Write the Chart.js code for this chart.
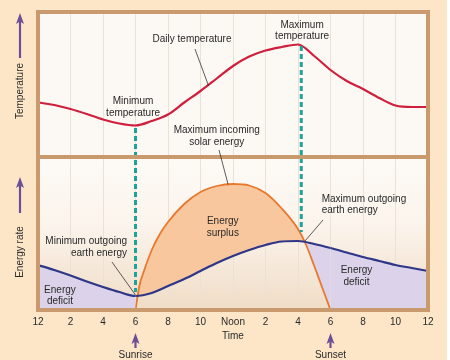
<!DOCTYPE html>
<html><head><meta charset="utf-8">
<script src="https://cdn.jsdelivr.net/npm/chart.js@4"></script>
<style>
html,body{margin:0;padding:0;background:#fff;}
#wrap{width:450px;height:360px;background:linear-gradient(to right,#fde6c8 447px,#ffffff 447px);}
canvas{display:block;}
</style></head><body>
<div id="wrap"><canvas id="c" width="450" height="360"></canvas></div>
<script>
// ---- data (arbitrary relative units) ----
const hours = [0,1,2,3,4,5,6,7,8,9,10,11,12,13,14,15,16,17,18,19,20,21,22,23,24];
const temperature = [54.5,52,48,43,37.5,33.5,31.5,36,42.5,54.5,66,78.5,91,100.5,106.5,110,112.5,101,87,76,68,59,51.5,50,50];
const earthEnergy = [45,40,34.5,28.5,23,18,14,17,24,31,39,47,54,60,65,68.5,69,66,62,57.5,53,49,45,42,39];
const solarHours = [6,6.25,6.5,7,7.5,8,9,10,11,12,13,14,15,16,16.5,17,17.5,18];
const solarEnergy = [0,25,38,60,76,88,106,118,124,126,124.5,117,101.5,81,65,44,22,0];
const tickLabels = ['12','2','4','6','8','10','Noon','2','4','6','8','10','12'];
const markerHours = [6, 16.2];
const markerTopTemp = [29, 111];
const markerBottomEnergy = [18, 78];

const F = "'Liberation Sans', Arial, sans-serif";
const C = {
  red:'#cf1f3c', blue:'#2d3687', orange:'#e9782f', orangeFill:'#f9c79d', lav:'#dcd2ea',
  teal:'#1ea39b', frame:'#c89a6e', text:'#2a2a2a', purple:'#6c4f97', grid:'#ece1d5'
};

const notes = [
  {t:['Daily temperature'], h:9.48, v:118, a:'yT', al:'center'},
  {t:['Maximum','temperature'], h:16.25, v:132, a:'yT', al:'center'},
  {t:['Minimum','temperature'], h:5.85, v:55.3, a:'yT', al:'center'},
  {t:['Maximum incoming','solar energy'], h:11.0, v:26.3, a:'yT', al:'center'},
  {t:['Energy','surplus'], h:11.37, v:88.3, a:'yE', al:'center'},
  {t:['Minimum outgoing','earth energy'], h:5.48, v:68.3, a:'yE', al:'right'},
  {t:['Maximum outgoing','earth energy'], h:17.46, v:111, a:'yE', al:'left'},
  {t:['Energy','deficit'], h:1.35, v:20, a:'yE', al:'center'},
  {t:['Energy','deficit'], h:19.6, v:39.3, a:'yE', al:'center'}
];
const leaders = [
  [[9.66,108,'yT'],[10.5,71,'yT']],
  [[11.14,7,'yT'],[11.7,125.5,'yE']],
  [[4.55,48,'yE'],[6.0,15,'yE']],
  [[17.54,90,'yE'],[16.43,69,'yE']]
];

function px(chart,h,v,a){return [chart.scales.x.getPixelForValue(h), chart.scales[a].getPixelForValue(v)];}

function arrowUp(ctx,x,yTip,yEnd){
  ctx.save();
  ctx.strokeStyle=C.purple; ctx.fillStyle=C.purple; ctx.lineWidth=2.2;
  ctx.beginPath(); ctx.moveTo(x,yEnd); ctx.lineTo(x,yTip+7); ctx.stroke();
  ctx.beginPath(); ctx.moveTo(x,yTip); ctx.lineTo(x-4,yTip+11); ctx.lineTo(x,yTip+8.5); ctx.lineTo(x+4,yTip+11); ctx.closePath(); ctx.fill();
  ctx.restore();
}

const decor = {
  id:'decor',
  beforeDraw(chart){
    const {ctx, chartArea:a, scales} = chart;
    const mid = scales.yT.getPixelForValue(0);
    ctx.save();
    ctx.fillStyle='#fcf8f3';
    ctx.fillRect(a.left,a.top,a.width,mid-a.top);
    const g = ctx.createLinearGradient(0,mid,0,a.bottom);
    g.addColorStop(0,'#fdfaf6'); g.addColorStop(0.45,'#fbf4ec'); g.addColorStop(1,'#f0dcc6');
    ctx.fillStyle=g; ctx.fillRect(a.left,mid,a.width,a.bottom-mid);
    ctx.restore();
  },
  afterDatasetsDraw(chart){
    const {ctx, chartArea:a, scales} = chart;
    ctx.save();
    // dashed teal markers
    ctx.strokeStyle=C.teal; ctx.lineWidth=3; ctx.setLineDash([5,3]);
    markerHours.forEach((h,i)=>{
      const x = scales.x.getPixelForValue(h);
      ctx.beginPath();
      ctx.moveTo(x, scales.yT.getPixelForValue(markerTopTemp[i]));
      ctx.lineTo(x, scales.yE.getPixelForValue(markerBottomEnergy[i]));
      ctx.stroke();
    });
    ctx.setLineDash([]);
    // frame
    const mid = scales.yT.getPixelForValue(0);
    ctx.strokeStyle=C.frame; ctx.lineWidth=4;
    ctx.strokeRect(a.left,a.top,a.width,a.height);
    ctx.beginPath(); ctx.moveTo(a.left,mid); ctx.lineTo(a.right,mid); ctx.stroke();
    // leader lines
    ctx.strokeStyle='#333'; ctx.lineWidth=0.8;
    leaders.forEach(l=>{
      const p0=px(chart,...l[0]), p1=px(chart,...l[1]);
      ctx.beginPath(); ctx.moveTo(p0[0],p0[1]); ctx.lineTo(p1[0],p1[1]); ctx.stroke();
    });
    ctx.restore();
  },
  afterDraw(chart){
    const {ctx, scales} = chart;
    ctx.save();
    ctx.fillStyle=C.text; ctx.font='10px '+F; ctx.textBaseline='middle';
    notes.forEach(n=>{
      const p=px(chart,n.h,n.v,n.a);
      ctx.textAlign=n.al;
      n.t.forEach((s,i)=>ctx.fillText(s,p[0],p[1]+i*11.4));
    });
    // side titles
    ctx.textAlign='center';
    [['Temperature',91],['Energy rate',252]].forEach(([s,y])=>{
      ctx.save(); ctx.translate(20,y); ctx.rotate(-Math.PI/2); ctx.fillText(s,0,0); ctx.restore();
    });
    arrowUp(ctx,20,13,58);
    arrowUp(ctx,20,177,213);
    // sunrise / sunset
    [[6,'Sunrise'],[18,'Sunset']].forEach(([h,s])=>{
      const x=scales.x.getPixelForValue(h);
      arrowUp(ctx,x,333,348);
      ctx.fillStyle=C.text; ctx.fillText(s,x,355);
    });
    ctx.restore();
  }
};

new Chart(document.getElementById('c'),{
  type:'line',
  data:{datasets:[
    {label:'Daily temperature', data:hours.map((h,i)=>({x:h,y:temperature[i]})), yAxisID:'yT',
     borderColor:C.red, borderWidth:2.2, pointRadius:0, cubicInterpolationMode:'monotone', fill:false},
    {label:'Outgoing earth energy', data:hours.map((h,i)=>({x:h,y:earthEnergy[i]})), yAxisID:'yE',
     borderColor:C.blue, borderWidth:2.2, pointRadius:0, cubicInterpolationMode:'monotone',
     backgroundColor:C.lav, fill:'origin',
     segment:{backgroundColor: ctx => (hours[ctx.p1DataIndex] <= 6 || hours[ctx.p0DataIndex] >= 18) ? C.lav : 'rgba(0,0,0,0)'}},
    {label:'Incoming solar energy', data:solarHours.map((h,i)=>({x:h,y:solarEnergy[i]})), yAxisID:'yE',
     borderColor:C.orange, borderWidth:1.8, pointRadius:0, cubicInterpolationMode:'monotone',
     fill:{target:1, above:C.orangeFill, below:C.lav}}
  ]},
  options:{
    responsive:false, animation:false,
    layout:{padding:{left:38,right:22,top:12,bottom:0}},
    plugins:{legend:{display:false}, tooltip:{enabled:false}},
    scales:{
      x:{type:'linear', min:0, max:24,
         afterFit:s=>{s.height=50;},
         ticks:{stepSize:2, padding:6, color:C.text, font:{family:F,size:10}, maxRotation:0, autoSkip:false,
                callback:v=>tickLabels[Math.round(v/2)]},
         grid:{color:C.grid, drawTicks:false},
         border:{display:false},
         title:{display:true, text:'Time', color:C.text, font:{family:F,size:10}, padding:{top:0,bottom:18}}},
      yT:{type:'linear', display:false, min:-153, max:145},
      yE:{type:'linear', display:false, min:0, max:298}
    }
  },
  plugins:[decor]
});
</script>
</body></html>
